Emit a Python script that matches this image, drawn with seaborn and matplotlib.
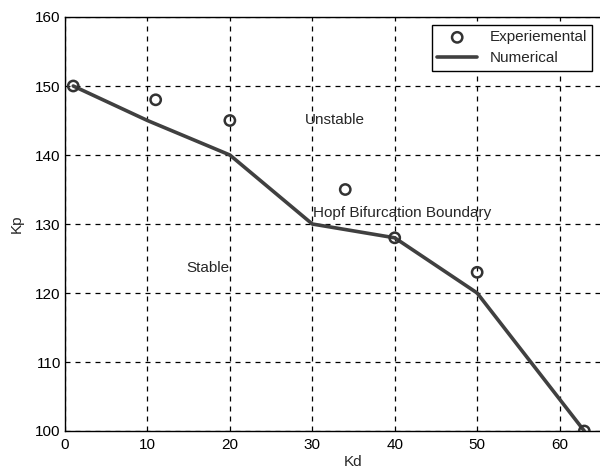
import matplotlib
matplotlib.use("Agg")
import matplotlib.pyplot as plt
import seaborn as sns
import pandas as pd

# Stability boundary data: Kd vs Kp
exp_kd = [1, 11, 20, 34, 40, 50, 63]
exp_kp = [150, 148, 145, 135, 128, 123, 100]
num_kd = [1, 10, 20, 30, 40, 50, 63]
num_kp = [150, 145, 140, 130, 128, 120, 100]
x_ticks = [0, 10, 20, 30, 40, 50, 60]
y_ticks = [100, 110, 120, 130, 140, 150, 160]

sns.set_style("white")
plt.rcParams["font.family"] = ["Liberation Sans", "DejaVu Sans"]
FS = 11

fig = plt.figure(figsize=(6, 4.7), dpi=100)
ax = fig.add_axes([65 / 600, 39 / 470, 577 / 600, 414 / 470])

num_df = pd.DataFrame({"Kd": num_kd, "Kp": num_kp})
exp_df = pd.DataFrame({"Kd": exp_kd, "Kp": exp_kp})

sns.lineplot(data=num_df, x="Kd", y="Kp", ax=ax, color="#404040",
             linewidth=2.6, label="Numerical", sort=False, zorder=3)
sns.scatterplot(data=exp_df, x="Kd", y="Kp", ax=ax, marker="o", s=55,
                facecolors="none", edgecolors="#333333", linewidth=1.8,
                label="Experiemental", zorder=4)

ax.set_xlim(0, 70)
ax.set_ylim(100, 160)
ax.set_xticks(x_ticks)
ax.set_yticks(y_ticks)
ax.grid(True, color="black", linestyle=(0, (4, 4)), linewidth=0.9)
for side in ["left", "bottom", "top"]:
    ax.spines[side].set_color("black")
    ax.spines[side].set_linewidth(1.0)
ax.spines["right"].set_visible(False)
ax.tick_params(axis="both", direction="in", length=3, labelsize=FS,
               colors="black")
ax.tick_params(axis="x", pad=5)
ax.tick_params(axis="y", pad=3)
ax.set_xlabel("Kd", fontsize=FS, labelpad=2)
ax.set_ylabel("Kp", fontsize=FS, labelpad=8)

ax.text(29.1, 145.1, "Unstable", fontsize=FS, va="center", ha="left")
ax.text(30.1, 131.6, "Hopf Bifurcation Boundary", fontsize=FS,
        va="center", ha="left")
ax.text(14.7, 123.6, "Stable", fontsize=FS, va="center", ha="left")

handles, labels = ax.get_legend_handles_labels()
order = [labels.index("Experiemental"), labels.index("Numerical")]
leg = ax.legend([handles[i] for i in order], [labels[i] for i in order],
                loc="upper right", bbox_to_anchor=(592 / 600, 1 - 25 / 470),
                bbox_transform=fig.transFigure, borderaxespad=0,
                fontsize=FS, frameon=True,
                fancybox=False, edgecolor="black", framealpha=1,
                borderpad=0.35, handlelength=2.6, labelspacing=0.45,
                handletextpad=0.8)
leg.get_frame().set_linewidth(1.0)

fig.savefig("out.png", dpi=100)
